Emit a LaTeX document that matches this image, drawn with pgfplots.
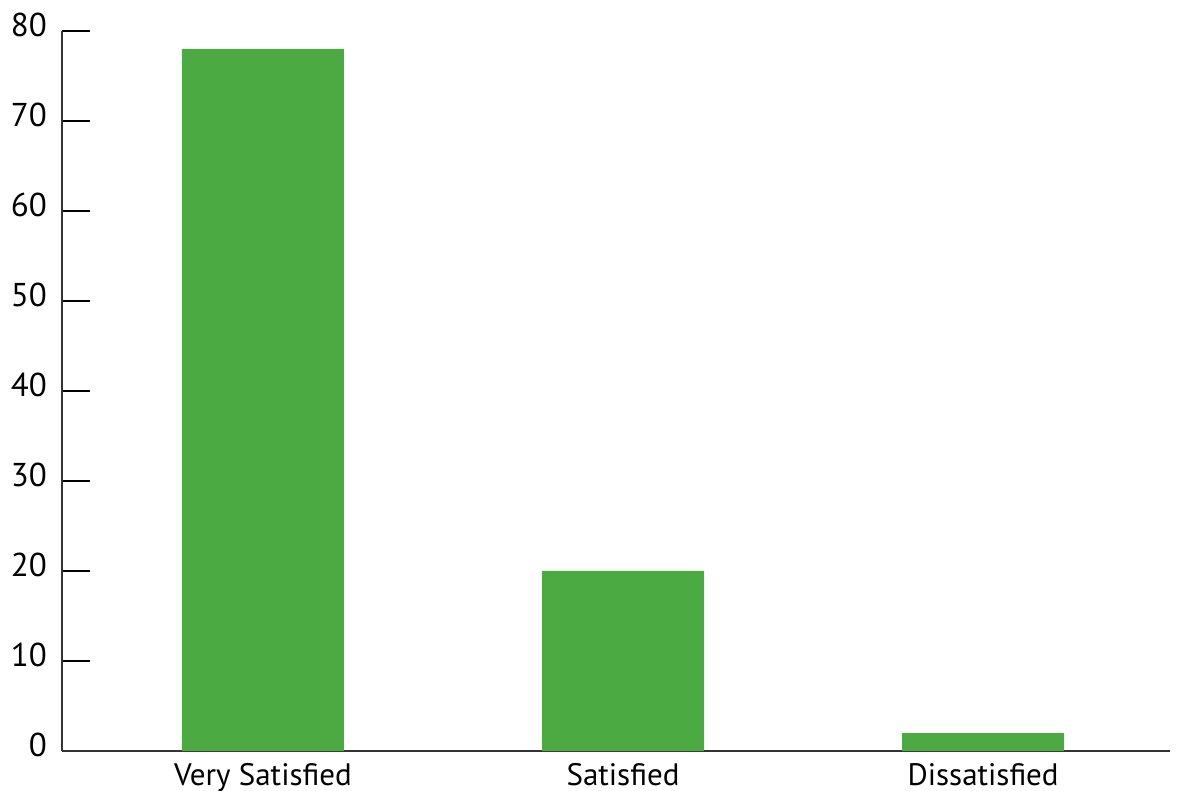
\documentclass[border=0pt]{standalone}
\usepackage{fontspec}
\setmainfont{PT Sans}
\usepackage{pgfplots}
\pgfplotsset{compat=1.18}
\definecolor{barGreen}{HTML}{4BAA42}
\begin{document}
\begin{tikzpicture}
\begin{axis}[
  at={(0,0)}, anchor=south west,
  scale only axis,
  width=554pt, height=360pt,
  xmin=-0.558, xmax=2.519,
  ymin=0, ymax=80,
  axis x line=bottom, axis y line=left,
  axis line style={-, black!80, line width=0.8pt},
  xtick=data,
  xticklabels={Very Satisfied, Satisfied, Dissatisfied},
  x tick style={draw=none},
  ytick={0,10,...,80},
  y tick style={black, line width=0.6pt},
  tick align=inside,
  major tick length=14pt,
  /pgf/number format/assume math mode=true,
  yticklabel style={font=\fontsize{16.5pt}{18pt}\selectfont, xshift=-4pt, yshift=3pt},
  xticklabel style={font=\fontsize{15.5pt}{18pt}\selectfont, yshift=-2.5pt},
  clip=false,
]
\addplot[ybar, bar width=81pt, fill=barGreen, draw=none]
  coordinates {(0,78) (1,20) (2,2)};
\end{axis}
\pgfresetboundingbox
\path[use as bounding box] (-31pt,-20pt) rectangle (560pt,375.5pt);
\end{tikzpicture}
\end{document}
